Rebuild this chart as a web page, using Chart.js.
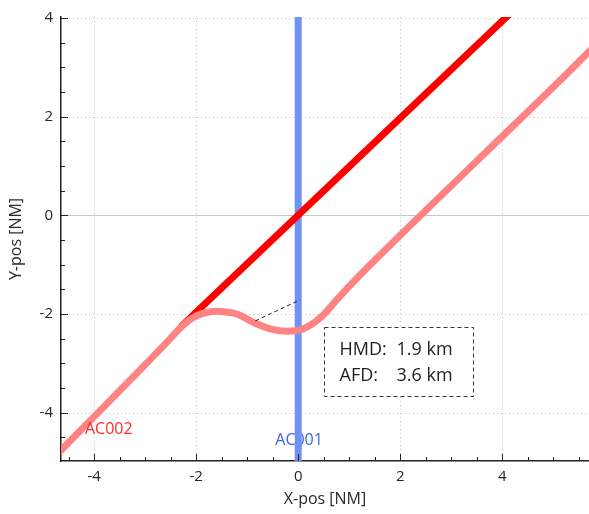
<!DOCTYPE html>
<html>
<head>
<meta charset="utf-8">
<script src="https://cdn.jsdelivr.net/npm/chart.js@4.4.1/dist/chart.umd.min.js"></script>
<style>
  html, body { margin: 0; padding: 0; background: #fff; }
  #wrap { width: 589px; height: 514px; }
</style>
</head>
<body>
<div id="wrap"><canvas id="conflict-chart"></canvas></div>
<script>
// Axis ticks
const xTicks = [-4, -2, 0, 2, 4];
const yTicks = [-4, -2, 0, 2, 4];

// AC001 track (vertical, along x = 0)
const ac001X = [0, 0];
const ac001Y = [-5, 4.1];

// AC002 original track (straight)
const ac002X = [-2.3, 4.6];
const ac002Y = [-2.26, 4.53];

// AC002 resolution track (detour)
const resX = [-4.8, -4.0, -3.2, -2.6, -2.25, -2.0, -1.75, -1.5, -1.2, -0.88, -0.55, -0.22, 0.1, 0.43, 0.75, 1.1, 1.6, 2.2, 3.0, 4.0, 5.0, 5.8];
const resY = [-4.92, -4.08, -3.24, -2.6, -2.22, -2.04, -1.96, -1.95, -2.0, -2.17, -2.3, -2.35, -2.3, -2.08, -1.72, -1.33, -0.81, -0.2, 0.6, 1.6, 2.6, 3.42];

// Closest point of approach connector
const cpaX = [-0.84, 0.04];
const cpaY = [-2.14, -1.71];

// Text
const ac001Label = 'AC001';
const ac002Label = 'AC002';
const infoLines = [['HMD:', '1.9 km'], ['AFD:', '3.6 km']];

const FONT = '"Open Sans", "Noto Sans", sans-serif';

const toPoints = (xs, ys) => xs.map((x, i) => ({ x: x, y: ys[i] }));

const framePlugin = {
  id: 'frame',
  beforeDatasetsDraw(chart) {
    const { ctx, chartArea: a, scales: { x, y } } = chart;
    ctx.save();
    ctx.lineWidth = 1;
    // dotted grid
    ctx.strokeStyle = '#c4c4c4';
    ctx.setLineDash([1, 3]);
    xTicks.forEach(v => {
      if (v === 0) return;
      const px = Math.round(x.getPixelForValue(v)) + 0.5;
      ctx.beginPath(); ctx.moveTo(px, a.top); ctx.lineTo(px, a.bottom); ctx.stroke();
    });
    yTicks.forEach(v => {
      if (v === 0) return;
      const py = Math.round(y.getPixelForValue(v)) + 0.5;
      ctx.beginPath(); ctx.moveTo(a.left, py); ctx.lineTo(a.right, py); ctx.stroke();
    });
    // zero lines
    ctx.setLineDash([]);
    ctx.strokeStyle = '#c8c8c8';
    const zx = Math.round(x.getPixelForValue(0)) + 0.5;
    const zy = Math.round(y.getPixelForValue(0)) + 0.5;
    ctx.beginPath(); ctx.moveTo(zx, a.top); ctx.lineTo(zx, a.bottom); ctx.stroke();
    ctx.beginPath(); ctx.moveTo(a.left, zy); ctx.lineTo(a.right, zy); ctx.stroke();

    // AC001 label sits under its own track
    ctx.font = '16px ' + FONT;
    ctx.fillStyle = '#3d62e6';
    ctx.textBaseline = 'middle';
    ctx.fillText(ac001Label, x.getPixelForValue(-0.45), y.getPixelForValue(-4.56));
    ctx.restore();
  },
  afterDatasetsDraw(chart) {
    const { ctx, chartArea: a, scales: { x, y } } = chart;
    ctx.save();
    ctx.font = '16px ' + FONT;
    ctx.fillStyle = '#ff2a2a';
    ctx.textBaseline = 'middle';
    ctx.fillText(ac002Label, x.getPixelForValue(-4.18), y.getPixelForValue(-4.35));

    // info box
    const bx1 = Math.round(x.getPixelForValue(0.51)) + 0.5;
    const by1 = Math.round(y.getPixelForValue(-2.26)) + 0.5;
    const bx2 = Math.round(x.getPixelForValue(3.43)) + 0.5;
    const by2 = Math.round(y.getPixelForValue(-3.67)) + 0.5;
    ctx.fillStyle = '#fff';
    ctx.fillRect(bx1, by1, bx2 - bx1, by2 - by1);
    ctx.strokeStyle = '#333';
    ctx.lineWidth = 1;
    ctx.setLineDash([4, 3]);
    ctx.strokeRect(bx1, by1, bx2 - bx1, by2 - by1);
    ctx.setLineDash([]);
    ctx.fillStyle = '#1e1e1e';
    ctx.font = '18px ' + FONT;
    infoLines.forEach((ln, i) => {
      const ty = by1 + 22 + i * 26;
      ctx.fillText(ln[0], bx1 + 15, ty);
      ctx.fillText(ln[1], bx1 + 72, ty);
    });

    // inward tick marks, major every 2, minor every 0.5
    ctx.strokeStyle = '#222';
    ctx.lineWidth = 1;
    for (let v = -4.5; v <= 5.5; v += 0.5) {
      const major = xTicks.includes(v);
      const px = Math.round(x.getPixelForValue(v)) + 0.5;
      if (px < a.left || px > a.right) continue;
      ctx.beginPath(); ctx.moveTo(px, a.bottom); ctx.lineTo(px, a.bottom - (major ? 7 : 4)); ctx.stroke();
    }
    for (let v = -4.5; v <= 4; v += 0.5) {
      const major = yTicks.includes(v);
      const py = Math.round(y.getPixelForValue(v)) + 0.5;
      if (py < a.top - 1 || py > a.bottom) continue;
      ctx.beginPath(); ctx.moveTo(a.left, py); ctx.lineTo(a.left + (major ? 7 : 4), py); ctx.stroke();
    }
    ctx.restore();
  },
  afterDraw(chart) {
    const { ctx, chartArea: a } = chart;
    ctx.save();
    ctx.fillStyle = '#2a2a2a';
    ctx.font = '16px ' + FONT;
    ctx.textAlign = 'center';
    ctx.textBaseline = 'middle';
    ctx.fillText('X-pos [NM]', (a.left + a.right) / 2, 499);
    ctx.translate(16, (a.top + a.bottom) / 2);
    ctx.rotate(-Math.PI / 2);
    ctx.fillText('Y-pos [NM]', 0, 0);
    ctx.restore();
  }
};

const axisCommon = {
  type: 'linear',
  grid: { drawOnChartArea: false, drawTicks: false },
  border: { display: true, color: '#222', width: 1.5 },
  ticks: { color: '#262626', font: { family: FONT, size: 15 }, autoSkip: false, maxRotation: 0 }
};

new Chart(document.getElementById('conflict-chart'), {
  type: 'line',
  data: {
    datasets: [
      {
        label: 'CPA',
        data: toPoints(cpaX, cpaY),
        borderColor: '#222',
        borderWidth: 1,
        borderDash: [4, 3],
        pointRadius: 0,
        clip: 0,
        order: 0
      },
      {
        label: 'AC002 resolution',
        data: toPoints(resX, resY),
        borderColor: '#ff8383',
        borderWidth: 7,
        pointRadius: 0,
        tension: 0.4,
        clip: 0,
        order: 1
      },
      {
        label: 'AC002',
        data: toPoints(ac002X, ac002Y),
        borderColor: '#ff0000',
        borderWidth: 7,
        pointRadius: 0,
        clip: 0,
        order: 2
      },
      {
        label: 'AC001',
        data: toPoints(ac001X, ac001Y),
        borderColor: '#7092f7',
        borderWidth: 7,
        pointRadius: 0,
        clip: 0,
        order: 3
      }
    ]
  },
  options: {
    responsive: true,
    maintainAspectRatio: false,
    animation: false,
    layout: { padding: { top: 14, right: 0, left: 0, bottom: 0 } },
    plugins: { legend: { display: false }, tooltip: { enabled: false } },
    scales: {
      x: Object.assign({}, axisCommon, {
        min: -4.65,
        max: 5.7,
        afterBuildTicks: s => { s.ticks = xTicks.map(v => ({ value: v })); },
        afterFit: s => { s.height = 53; },
        ticks: Object.assign({}, axisCommon.ticks, { padding: 7 })
      }),
      y: Object.assign({}, axisCommon, {
        min: -4.98,
        max: 4.02,
        afterBuildTicks: s => { s.ticks = yTicks.map(v => ({ value: v })); },
        afterFit: s => { s.width = 61; },
        ticks: Object.assign({}, axisCommon.ticks, { padding: 8 })
      })
    }
  },
  plugins: [framePlugin]
});
</script>
</body>
</html>
